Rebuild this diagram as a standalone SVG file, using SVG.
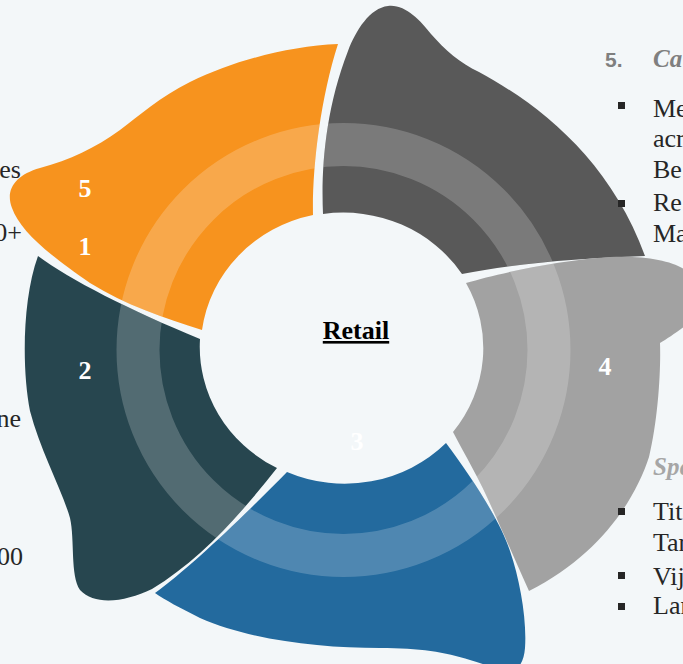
<svg xmlns="http://www.w3.org/2000/svg" width="683" height="664" viewBox="0 0 683 664">
<style>
.num{font-family:"Liberation Serif",serif;font-weight:bold;font-size:26px;fill:#fff;text-anchor:middle}
.body{font-family:"Liberation Serif",serif;font-size:26px;fill:#262626}
.side{font-family:"Liberation Serif",serif;font-size:26px;fill:#262626;text-anchor:end}
.hd{font-family:"Liberation Serif",serif;font-weight:bold;font-style:italic;font-size:25px}
.bul{fill:#262626}
</style>
<defs>
<path id="p-orange" d="M202,330 A142 136 0 0 1 313,215 C312,170 320,100 338,44 C290,46 235,60 190,82 C160,97 140,115 120,130 C95,148 70,160 40,168 C15,175 5,190 12,208 C20,230 45,252 90,283 C125,305 165,318 202,330 Z"/>
<path id="p-dark" d="M323,214 C321,170 325,110 348,51 C356,30 370,8 388,6 C405,4 420,20 431,34 C445,50 460,63 479,72 C540,105 610,160 645,256 C580,258 510,264 462,274 A142 136 0 0 0 323,214 Z"/>
<path id="p-light" d="M466,283 C500,273 560,260 610,257 C650,255 683,263 690,275 L690,322 C680,330 668,338 660,343 C661,370 658,420 649,457 C635,500 600,555 529,591 C515,560 502,530 492,508 C480,480 465,455 453,432 A142 136 0 0 0 466,283 Z"/>
<path id="p-blue" d="M446,443 C470,475 500,520 510,551 C520,580 527,620 525,648 C524,660 520,668 512,672 C505,672 490,666 470,660 C445,652 420,648 380,648 C320,648 250,640 200,618 C180,608 165,600 155,593 C190,568 250,510 287,472 A142 136 0 0 0 446,443 Z"/>
<path id="p-teal" d="M38,256 C70,280 130,310 200,339 A142 136 0 0 0 277,468 C240,515 200,560 152,589 C125,602 95,606 80,590 C70,575 75,540 70,518 C62,490 40,450 30,411 C22,370 22,300 38,256 Z"/>
<clipPath id="segs">
<use href="#p-orange"/><use href="#p-dark"/><use href="#p-light"/><use href="#p-blue"/><use href="#p-teal"/>
</clipPath>
</defs>
<rect width="683" height="664" fill="#F3F7F9"/>
<g id="side-text-left">
<text class="side" x="21" y="178">es</text>
<text class="side" x="22" y="241">0+</text>
<text class="side" x="21" y="427">ne</text>
<text class="side" x="23" y="565">00</text>
</g>
<g id="seg-orange"><use href="#p-orange" fill="#F7931E"/></g>
<g id="seg-dark"><use href="#p-dark" fill="#595959"/></g>
<g id="seg-light"><use href="#p-light" fill="#A2A2A2"/></g>
<g id="seg-blue"><use href="#p-blue" fill="#236A9E"/></g>
<g id="seg-teal"><use href="#p-teal" fill="#27464F"/></g>
<g id="connectors">
<circle cx="343.5" cy="350" r="205.5" fill="none" stroke="#fff" stroke-opacity="0.2" stroke-width="43" clip-path="url(#segs)"/>
</g>
<g id="labels">
<text class="num" x="85" y="197">5</text>
<text class="num" x="85" y="255">1</text>
<text class="num" x="85" y="379">2</text>
<text class="num" x="605" y="375">4</text>
<text class="num" x="357" y="450">3</text>
</g>
<g id="center">
<text x="356" y="339" font-family="Liberation Serif, serif" font-weight="bold" font-size="26" fill="#000" text-anchor="middle" text-decoration="underline">Retail</text>
</g>
<g id="right-text">
<text x="605" y="67" font-family="Liberation Sans, Arial, sans-serif" font-weight="bold" font-size="21" fill="#7F7F7F">5.</text>
<text class="hd" x="653" y="67" fill="#7F7F7F">Ca</text>
<rect class="bul" x="618" y="102" width="7" height="7"/>
<text class="body" x="653" y="117">Me</text>
<text class="body" x="653" y="147">acr</text>
<text class="body" x="653" y="178">Be</text>
<rect class="bul" x="618" y="200" width="7" height="7"/>
<text class="body" x="653" y="211">Re</text>
<text class="body" x="653" y="242">Ma</text>
<text class="hd" x="653" y="475" fill="#A6A6A6">Spe</text>
<rect class="bul" x="618" y="508" width="7" height="7"/>
<text class="body" x="653" y="520">Tit</text>
<text class="body" x="653" y="551">Tar</text>
<rect class="bul" x="618" y="572" width="7" height="7"/>
<text class="body" x="653" y="585">Vij</text>
<rect class="bul" x="618" y="603" width="7" height="7"/>
<text class="body" x="653" y="614">Lar</text>
</g>
</svg>
